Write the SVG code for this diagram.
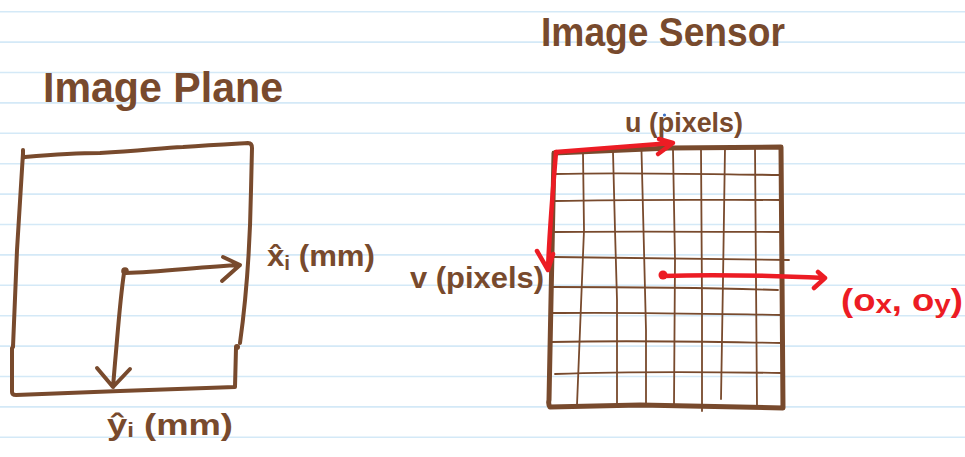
<svg xmlns="http://www.w3.org/2000/svg" width="965" height="457" viewBox="0 0 965 457">
<defs>
<style>
.rule{stroke:#d4e9f7;stroke-width:1.6;fill:none}
.br{stroke:#784a2d;fill:none;stroke-linecap:round;stroke-linejoin:round}
.thick{stroke-width:4}
.frame{stroke-width:5}
.grid{stroke-width:1.8}
.red{stroke:#ec1c24;fill:none;stroke-width:4.5;stroke-linecap:round;stroke-linejoin:round}
.tb{font-family:"Liberation Sans","DejaVu Sans",sans-serif;fill:#784a2d;font-weight:bold}
.tr{font-family:"Liberation Sans","DejaVu Sans",sans-serif;fill:#ec1c24;font-weight:bold}
</style>
</defs>
<rect width="965" height="457" fill="#ffffff"/>
<g id="ruled-paper">
<path class="rule" d="M0,11.7H965M0,42.1H965M0,72.5H965M0,102.9H965M0,133.3H965M0,163.7H965M0,194.1H965M0,224.5H965M0,254.9H965M0,285.3H965M0,315.7H965M0,346.1H965M0,376.5H965M0,406.9H965M0,437.3H965"/>
</g>
<g id="image-plane">
<text class="tb" x="43" y="102" font-size="42" textLength="240" lengthAdjust="spacingAndGlyphs">Image Plane</text>
<path class="br thick" d="M23,150 L23,158"/>
<path class="br thick" d="M25,157 C60,154 80,153 100,153 C140,151 160,148 183,147 C210,145 230,144 248,143 Q252,143 252,148 L251,190 C250,250 246,300 240,343"/>
<path class="br thick" d="M23,153 L17,250 L13,347 M12,348 L12,392 Q12,395 16,395 L120,391 L235,387 L236,348"/>
<circle cx="237" cy="347" r="3" fill="#784a2d"/>
<circle cx="13" cy="346" r="2" fill="#784a2d"/>
</g>
<g id="image-sensor">
<text class="tb" x="541" y="46" font-size="40" textLength="244" lengthAdjust="spacingAndGlyphs">Image Sensor</text>
<g id="sensor-grid">
<path class="br grid" d="M583,153 L584,230 L580,330 L577,405 M613,152 L615,230 L617,300 L617,405 M641.5,151 L644,250 L646,330 L646,404 M673,150 L675,260 L674,404 M701,149 L702,300 L702,411 M725,148 L723,280 L721,399 M755,147 L756,280 L757,406"/>
<path class="br grid" d="M555,174 C620,172 700,174 781,175 M555,201 C640,199 720,200 781,200 M554,232 C640,231 720,232 782,232 M553,257 C640,258 720,259 789,260 M552,287 C640,287 720,288 778,290 M551,313 C640,312 720,314 782,315 M551,342 C640,340 720,342 782,343 M555,374 C640,371 720,372 782,373"/>
<path class="br frame" d="M554,153 L670,148 L781,147 L783,408 L640,405 L550,407 Q548,404 549,400 L551,300 L554,153"/>
</g>
</g>
<g id="labels">
<text class="tb" x="267" y="266" font-size="30" textLength="108" lengthAdjust="spacingAndGlyphs">x̂<tspan font-size="20" dy="4">i</tspan><tspan dy="-4"> (mm)</tspan></text>
<text class="tb" x="107" y="435" font-size="30" textLength="126" lengthAdjust="spacingAndGlyphs">ŷ<tspan font-size="20" dy="2">i</tspan><tspan dy="-2"> (mm)</tspan></text>
<text class="tb" x="410" y="288" font-size="30" textLength="134" lengthAdjust="spacingAndGlyphs">v (pixels)</text>
<text class="tb" x="625" y="132" font-size="28" textLength="118" lengthAdjust="spacingAndGlyphs">u (pixels)</text>
<circle cx="664.5" cy="115" r="1.6" fill="#3a6fc4"/>
<text class="tr" x="841" y="311" font-size="32" textLength="122" lengthAdjust="spacingAndGlyphs">(o<tspan font-size="26" dy="2">x</tspan><tspan dy="-2">, o</tspan><tspan font-size="26" dy="2">y</tspan><tspan dy="-2">)</tspan></text>
</g>
<g id="connectors">
<circle cx="125" cy="271" r="3.8" fill="#784a2d"/>
<path class="br thick" d="M126,273 C160,272 200,267 240,265 M223,257 L240,265 L222,281"/>
<path class="br thick" d="M124,273 C120,300 118,330 115,363 L113,387 M97,368 L113,387 L130,369"/>
<path class="red" d="M556,152 L672,143 M659,139 L673,143 L658,154"/>
<path class="red" d="M556,152 C552,200 549,240 548,270 M537,251 L548,270 L553,254"/>
<circle cx="663" cy="275" r="4.5" fill="#ec1c24"/>
<path class="red" d="M663,276 C720,274 780,276 825,278 M818,272 L825,278 L814,288"/>
</g>
</svg>
